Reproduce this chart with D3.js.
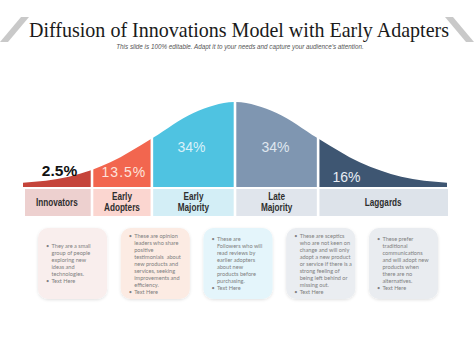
<!DOCTYPE html>
<html><head><meta charset="utf-8">
<script src="https://cdn.jsdelivr.net/npm/d3@7"></script>
<style>
html,body{margin:0;padding:0;background:#fff;}
svg{display:block;}
</style></head>
<body>
<svg id="c" width="474" height="355"></svg>
<script>
// ---------- data ----------
const categories = ["Innovators", "Early Adopters", "Early Majority", "Late Majority", "Laggards"];
const categoryLines = [["Innovators"], ["Early", "Adopters"], ["Early", "Majority"], ["Late", "Majority"], ["Laggards"]];
const shares = ["2.5%", "13.5%", "34%", "34%", "16%"];
// segment boundaries in standard-deviation units
const boundaries = [-2.55, -1.72, -1, 0, 1, 2.55];
// bell curve (position in SD, relative height)
const curveSD = [-2.55, -2, -1.5, -1, -0.5, 0, 0.5, 1, 1.5, 2, 2.55];
const curveHeight = [0.05, 0.12, 0.29, 0.57, 0.87, 1, 0.87, 0.57, 0.29, 0.12, 0.05];
const cardTexts = [
  ["They are a small", "group of people", "exploring new", "ideas and", "technologies."],
  ["These are opinion", "leaders who share", "positive", "testimonials  about", "new products and", "services, seeking", "improvements and", "efficiency."],
  ["These are", "Followers who will", "read reviews by", "earlier adopters", "about new", "products before", "purchasing."],
  ["These are sceptics", "who are not keen on", "change and will only", "adopt a new product", "or service if there is a", "strong feeling of", "being left behind or", "missing out."],
  ["These prefer", "traditional", "communications", "and will adopt new", "products when", "there are no", "alternatives."]
];
const extraBullet = "Text Here";
const title = "Diffusion of Innovations Model with Early Adapters";
const subtitle = "This slide is 100% editable. Adapt it to your needs and capture your audience\u2019s attention.";

// ---------- styles ----------
const segColors = ["#c5443a", "#f2664f", "#4fc3e1", "#7f96b1", "#3e5672"];
const boxColors = ["#edd0cf", "#fbd6d0", "#d3eef6", "#e0e5ec", "#dde3ea"];
const cardColors = ["#f9eeed", "#fcebe3", "#e4f5fb", "#eaedf1", "#e9ecf0"];
const shareColors = ["#111", "#fde3dc", "#d9f1f9", "#dfe6ef", "#e8eef5"];

const svg = d3.select("#c");
const defs = svg.append("defs");
const f = defs.append("filter").attr("id","sh").attr("x","-20%").attr("y","-20%").attr("width","140%").attr("height","140%");
f.append("feDropShadow").attr("dx",0).attr("dy",1).attr("stdDeviation",1.4).attr("flood-color","#000").attr("flood-opacity",0.12);

// header
svg.append("polygon").attr("points","21,17 29,17 8,42 0,42").attr("fill","#c9c9c9");
svg.append("polygon").attr("points","445,17 453,17 474,42 466,42").attr("fill","#c9c9c9");
svg.append("text").attr("x",239).attr("y",37).attr("text-anchor","middle")
  .attr("font-family","'Liberation Serif', 'DejaVu Serif', serif").attr("font-size",21)
  .attr("fill","#1a1a1a").attr("textLength",420).attr("lengthAdjust","spacingAndGlyphs").text(title);
svg.append("text").attr("x",240).attr("y",49).attr("text-anchor","middle")
  .attr("font-family","'Liberation Sans', Arial, sans-serif").attr("font-style","italic").attr("font-size",6.3)
  .attr("fill","#555").text(subtitle);

// scales
const x = d3.scaleLinear().domain([-2.55, 2.55]).range([23, 447]);
const y = d3.scaleLinear().domain([0, 1]).range([187, 102]);
const pts = curveSD.map((s, i) => [s, curveHeight[i]]);
const area = d3.area().x(d => x(d[0])).y0(y(0)).y1(d => y(d[1])).curve(d3.curveMonotoneX);

const gap = 1.3;
categories.forEach((c, i) => {
  const x0 = x(boundaries[i]) + (i === 0 ? 0 : gap);
  const x1 = x(boundaries[i + 1]) - (i === categories.length - 1 ? 0 : gap);
  defs.append("clipPath").attr("id", "cp" + i).append("rect")
    .attr("x", x0).attr("y", 0).attr("width", x1 - x0).attr("height", 400);
  svg.append("path").datum(pts).attr("d", area).attr("fill", segColors[i]).attr("clip-path", "url(#cp" + i + ")");
  // label box
  svg.append("rect").attr("x", x0 + (i===0?2:0)).attr("y", 189).attr("width", x1 - x0 - (i===0?2:0) + (i===4?1:0)).attr("height", 27)
    .attr("fill", boxColors[i]);
  const cx = (x0 + x1) / 2;
  const lines = categoryLines[i];
  const t = svg.append("text").attr("text-anchor", "middle")
    .attr("transform", `translate(${cx},0) scale(0.82,1)`)
    .attr("font-family", "'Liberation Sans', Arial, sans-serif")
    .attr("font-weight", "bold").attr("font-size", 10).attr("fill", "#2e2e2e");
  lines.forEach((l, j) => {
    t.append("tspan").attr("x", 0).attr("y", 206 + (j - (lines.length - 1) / 2) * 11).text(l);
  });
});

// share labels
const shareLayout = [
  {dx: 2, y: 176, size: 15.5, weight: "bold", ls: 0},
  {dx: 2, y: 177, size: 14, weight: "normal", ls: 1},
  {dx: -2, y: 152, size: 14, weight: "normal", ls: 0},
  {dx: -1, y: 152, size: 14, weight: "normal", ls: 0},
  {dx: -36, y: 182, size: 14, weight: "normal", ls: 0}
];
shares.forEach((s, i) => {
  const cx = (x(boundaries[i]) + x(boundaries[i + 1])) / 2 + shareLayout[i].dx;
  svg.append("text").attr("x", cx).attr("y", shareLayout[i].y).attr("text-anchor", "middle")
    .attr("font-family", "'Liberation Sans', Arial, sans-serif").attr("font-size", shareLayout[i].size)
    .attr("font-weight", shareLayout[i].weight).attr("letter-spacing", shareLayout[i].ls)
    .attr("fill", shareColors[i]).text(s);
});

// cards
const cardX = d3.scaleBand().domain(d3.range(5)).range([38, 438]).paddingInner(0.165).paddingOuter(0);
cardTexts.forEach((lines, i) => {
  const cx0 = cardX(i), w = cardX.bandwidth();
  svg.append("rect").attr("x", cx0).attr("y", 228).attr("width", w).attr("height", 71)
    .attr("rx", 10).attr("fill", cardColors[i]).attr("filter", "url(#sh)");
  const all = lines.length + 1;
  const lh = 7;
  const yStart = 263.5 - (all - 1) * lh / 2 + 2;
  const g = svg.append("g").attr("font-family", "Lato, 'Open Sans', sans-serif").attr("font-size", 5.6).attr("fill", "#808080");
  const bx = cx0 + 8, tx = cx0 + 13.5;
  g.append("text").attr("x", bx).attr("y", yStart).text("\u2022");
  lines.forEach((l, j) => g.append("text").attr("x", tx).attr("y", yStart + j * lh).attr("xml:space","preserve").text(l));
  g.append("text").attr("x", bx).attr("y", yStart + lines.length * lh).text("\u2022");
  g.append("text").attr("x", tx).attr("y", yStart + lines.length * lh).text(extraBullet);
});
</script>
</body></html>
